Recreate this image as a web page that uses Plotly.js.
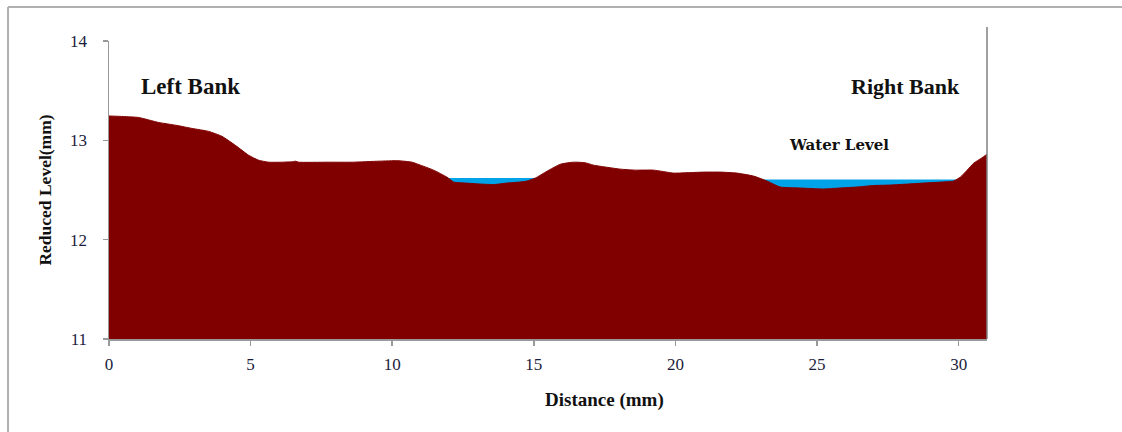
<!DOCTYPE html>
<html>
<head>
<meta charset="utf-8">
<script src="https://cdn.plot.ly/plotly-3.0.1.min.js"></script>
<style>
  html, body { margin: 0; padding: 0; background: #fff; }
  #chart { width: 1122px; height: 432px; }
</style>
</head>
<body>
<div id="chart"></div>
<script>
// Cross-section profile (distance in mm, reduced level in mm)
const distance = [0, 0.5, 1.05, 1.75, 2.4, 2.93, 3.52, 3.99, 4.46, 4.93, 5.28, 5.64, 6.1, 6.5, 6.58, 6.7,
  7.75, 8.6, 9.52, 10.2, 10.7, 11.0, 11.46, 11.93, 12.17, 12.6, 13.11, 13.6, 14.05, 14.5, 14.76, 15.05,
  15.47, 15.94, 16.4, 16.8, 17.11, 18.06, 18.6, 19.23, 19.94, 20.5, 21.0, 21.6, 22.17, 22.76, 23.23,
  23.7, 24.41, 25.23, 25.8, 26.41, 27.0, 27.59, 28.2, 28.76, 29.4, 29.82, 30.06, 30.3, 30.53, 30.8, 31];
const reducedLevel = [13.245, 13.24, 13.23, 13.18, 13.15, 13.12, 13.09, 13.04, 12.95, 12.85, 12.80, 12.78, 12.78, 12.785, 12.79, 12.78,
  12.78, 12.78, 12.79, 12.795, 12.78, 12.75, 12.70, 12.63, 12.58, 12.57, 12.56, 12.555, 12.57, 12.58, 12.59, 12.62,
  12.69, 12.76, 12.78, 12.775, 12.75, 12.71, 12.70, 12.70, 12.67, 12.675, 12.68, 12.68, 12.67, 12.64, 12.59,
  12.53, 12.52, 12.51, 12.52, 12.53, 12.545, 12.55, 12.56, 12.57, 12.58, 12.59, 12.63, 12.70, 12.77, 12.82, 12.86];

// Water surfaces in the two pools
const pool1Distance = [11.8, 15.2];
const pool1Level = [12.62, 12.62];
const pool2Distance = [23.0, 30.2];
const pool2Level = [12.605, 12.605];

const xTicks = [0, 5, 10, 15, 20, 25, 30];
const yTicks = [11, 12, 13, 14];

const waterColor = '#00a2e8';
const groundColor = '#800000';

const traces = [
  { x: pool1Distance, y: pool1Level, type: 'scatter', mode: 'lines', fill: 'tozeroy',
    fillcolor: waterColor, line: { color: waterColor, width: 0 }, hoverinfo: 'skip', showlegend: false },
  { x: pool2Distance, y: pool2Level, type: 'scatter', mode: 'lines', fill: 'tozeroy',
    fillcolor: waterColor, line: { color: waterColor, width: 0 }, hoverinfo: 'skip', showlegend: false },
  { x: distance, y: reducedLevel, type: 'scatter', mode: 'lines', fill: 'tozeroy',
    fillcolor: groundColor, line: { color: groundColor, width: 1, shape: 'spline', smoothing: 0.5 },
    hoverinfo: 'skip', showlegend: false }
];

const serif = '"Liberation Serif", "Times New Roman", serif';
const tickFont = { family: serif, size: 17, color: '#1c1c3c' };

const layout = {
  width: 1122, height: 432,
  margin: { l: 109, r: 135, t: 41, b: 93 },
  paper_bgcolor: '#ffffff', plot_bgcolor: '#ffffff',
  showlegend: false,
  xaxis: {
    range: [0, 31], tickvals: xTicks, ticktext: xTicks.map(String),
    showgrid: false, zeroline: false, showline: true, linecolor: '#999999', linewidth: 1.5,
    ticks: 'outside', ticklen: 5, tickcolor: '#999999', tickwidth: 1.5, tickfont: tickFont,
    ticklabelstandoff: 4
  },
  yaxis: {
    range: [11, 14], tickvals: yTicks, ticktext: yTicks.map(String),
    showgrid: false, zeroline: false, showline: true, linecolor: '#999999', linewidth: 1.5,
    ticks: 'outside', ticklen: 5, tickcolor: '#999999', tickwidth: 1.5, tickfont: tickFont,
    ticklabelstandoff: 12,
    title: { text: '<b>Reduced Level(mm)</b>', font: { family: serif, size: 17.5, color: '#111111' }, standoff: 14 }
  },
  annotations: [
    { x: 0.5644, y: -0.205, xref: 'paper', yref: 'paper', xanchor: 'center', yanchor: 'middle',
      text: '<b>Distance (mm)</b>', showarrow: false,
      font: { family: serif, size: 19, color: '#111111' } },
    { x: 2.87, y: 13.54, xref: 'x', yref: 'y', text: '<b>Left Bank</b>', showarrow: false,
      font: { family: serif, size: 23, color: '#111111' } },
    { x: 28.12, y: 13.54, xref: 'x', yref: 'y', text: '<b>Right Bank</b>', showarrow: false,
      font: { family: serif, size: 22, color: '#111111' } },
    { x: 25.79, y: 12.95, xref: 'x', yref: 'y', text: '<b>Water Level</b>', showarrow: false,
      font: { family: '"DejaVu Serif", serif', size: 15, color: '#111111' } }
  ],
  shapes: [
    // right-hand vertical line
    { type: 'line', xref: 'paper', yref: 'paper', x0: 1, x1: 1, y0: 0, y1: 1.047,
      line: { color: '#808080', width: 1.5 } },
    // outer frame (top and left)
    { type: 'line', xref: 'paper', yref: 'paper', x0: -0.115, x1: 1.16, y0: 1.114, y1: 1.114,
      line: { color: '#b0b0b0', width: 2 } },
    { type: 'line', xref: 'paper', yref: 'paper', x0: -0.115, x1: -0.115, y0: 1.114, y1: -0.32,
      line: { color: '#b0b0b0', width: 2 } }
  ]
};

Plotly.newPlot('chart', traces, layout, { displayModeBar: false, staticPlot: true });
</script>
</body>
</html>
